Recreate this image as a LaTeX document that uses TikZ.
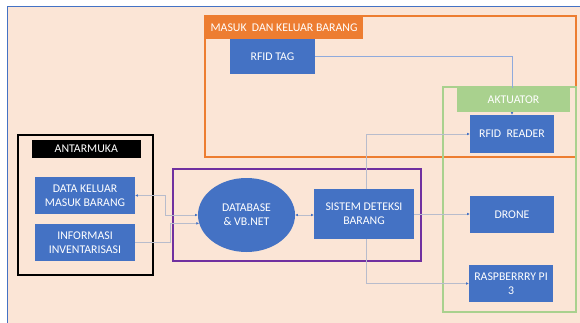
\documentclass[tikz,border=0pt]{standalone}
\usepackage{fontspec}
\setmainfont{Carlito}
\usetikzlibrary{arrows.meta,shapes.geometric,calc}
\pgfdeclarelayer{back}\pgfdeclarelayer{lines}\pgfsetlayers{back,lines,main}
\definecolor{peach}{HTML}{FBE5D6}
\definecolor{bbox}{HTML}{4472C4}
\definecolor{orng}{HTML}{ED7D31}
\definecolor{grn}{HTML}{A9D18E}
\definecolor{purp}{HTML}{7030A0}
\definecolor{lgray}{HTML}{B8BCCC}
\definecolor{lblue}{HTML}{8FAADC}
\tikzset{
  ptip/.tip={Latex[length=2.6pt,width=2.6pt,color=bbox]},
  txt/.style={text=white, align=center, inner sep=0pt, font=\fontsize{11.8}{14}\selectfont},
  box/.style={txt, fill=bbox},
  conn/.style={draw=lgray, line width=0.7pt},
  frame/.style={line width=1.4pt},
}
\begin{document}
\begin{tikzpicture}[x=1pt,y=-1pt]
\useasboundingbox (0,0) rectangle (580,323);
% nodes
\node[box, minimum width=85pt, minimum height=35pt] (tag) at (272.5,56.5) {RFID TAG};
\node[box, minimum width=84pt, minimum height=38pt] (reader) at (512,134) {RFID\ \ READER};
\node[box, minimum width=84pt, minimum height=37pt] (drone) at (512,214.5) {DRONE};
\node[box, minimum width=84pt, minimum height=37pt] (rasp) at (511,283.5) {RASPBERRRY PI\\3};
\node[box, minimum width=100pt, minimum height=37pt] (data) at (85,195.5) {DATA KELUAR\\MASUK BARANG};
\node[box, minimum width=100pt, minimum height=37pt] (info) at (85,242.5) {INFORMASI\\INVENTARISASI};
\node[box, ellipse, minimum width=97pt, minimum height=74pt] (ell) at (246.5,215) {DATABASE\\\& VB.NET};
\node[box, minimum width=100pt, minimum height=50pt] (sist) at (364,214) {SISTEM DETEKSI\\BARANG};
% labels
\node[txt, fill=orng, minimum width=158pt, minimum height=23pt] (lmasuk) at (284,27.5) {MASUK\ \ DAN KELUAR BARANG};
\node[txt, fill=grn, minimum width=113pt, minimum height=24pt] (lakt) at (513.5,100) {AKTUATOR};
\node[txt, fill=black, minimum width=109.5pt, minimum height=18pt] (lantar) at (86.25,149) {ANTARMUKA};
% background and frames
\begin{pgfonlayer}{back}
\fill[peach] (7,6) rectangle (580,323);
\draw[bbox, line width=0.9pt] (7,323) -- (7,6) -- (580,6);
\draw[orng, frame] (205,16) rectangle (576,157);
\draw[grn, frame] (443,87) rectangle (576,312);
\draw[black, frame] (18,135) rectangle (153,275);
\draw[purp, frame, line width=1.2pt] (173,169) rectangle (421,261);
\end{pgfonlayer}
% connectors
\begin{pgfonlayer}{lines}
\draw[conn, draw=lblue, -ptip] (tag.east) -| (reader.north);
\draw[conn, ptip-ptip] (data.east) -- ($(data.east)+(30,0)$) |- (ell.west);
\draw[conn, -ptip] (info.east) -- ($(info.east)+(35,0)$) |- (ell.190);
\draw[conn, ptip-ptip] (ell.east) -- (ell.east -| sist.west);
\draw[conn, -ptip] (sist.east) -- (sist.east -| drone.west);
\draw[conn, -ptip] ($(sist.center)+(2,0)$) |- (reader.west);
\draw[conn, -ptip] ($(sist.center)+(2,0)$) |- (rasp.west);
\end{pgfonlayer}
\end{tikzpicture}
\end{document}
